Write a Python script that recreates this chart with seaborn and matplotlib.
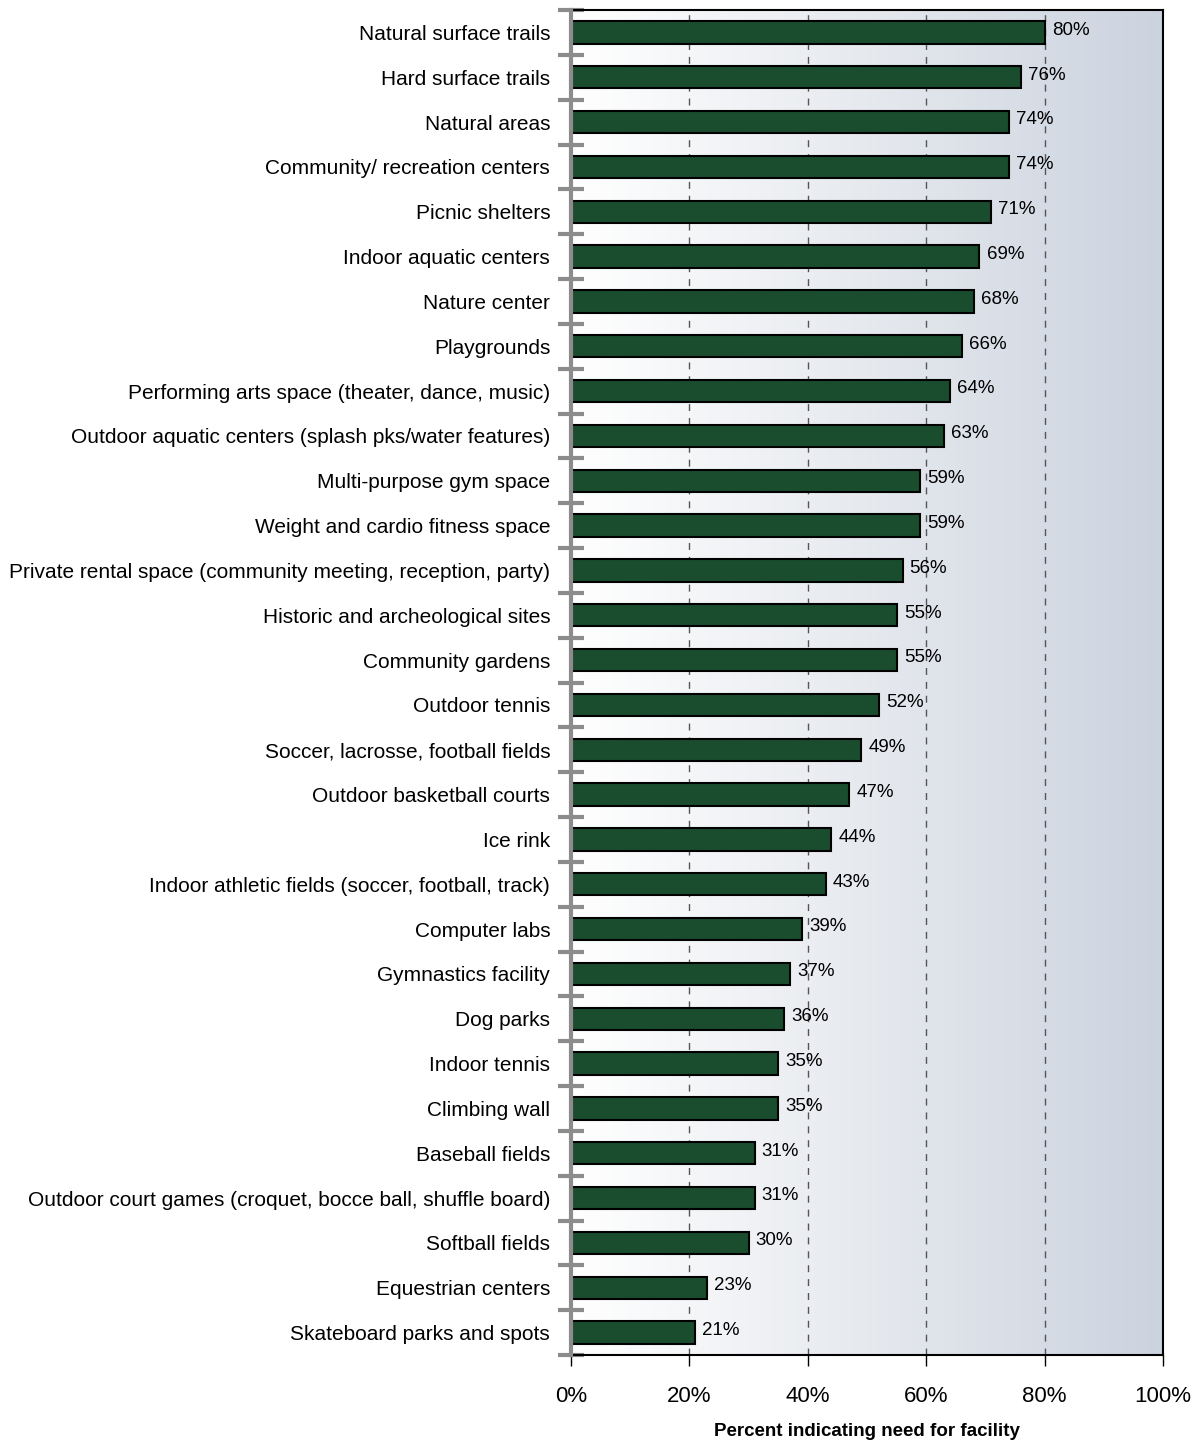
import numpy as np
import matplotlib
matplotlib.use("Agg")
import matplotlib.pyplot as plt
from matplotlib.colors import LinearSegmentedColormap
import seaborn as sns

categories = [
    "Natural surface trails", "Hard surface trails", "Natural areas",
    "Community/ recreation centers", "Picnic shelters", "Indoor aquatic centers",
    "Nature center", "Playgrounds", "Performing arts space (theater, dance, music)",
    "Outdoor aquatic centers (splash pks/water features)", "Multi-purpose gym space",
    "Weight and cardio fitness space",
    "Private rental space (community meeting, reception, party)",
    "Historic and archeological sites", "Community gardens", "Outdoor tennis",
    "Soccer, lacrosse, football fields", "Outdoor basketball courts", "Ice rink",
    "Indoor athletic fields (soccer, football, track)", "Computer labs",
    "Gymnastics facility", "Dog parks", "Indoor tennis", "Climbing wall",
    "Baseball fields", "Outdoor court games (croquet, bocce ball, shuffle board)",
    "Softball fields", "Equestrian centers", "Skateboard parks and spots",
]
values = [80, 76, 74, 74, 71, 69, 68, 66, 64, 63, 59, 59, 56, 55, 55, 52, 49, 47,
          44, 43, 39, 37, 36, 35, 35, 31, 31, 30, 23, 21]
xticks = [0, 20, 40, 60, 80, 100]
xticklabels = ["0%", "20%", "40%", "60%", "80%", "100%"]
xlabel = "Percent indicating need for facility"

sns.set_style("white")
plt.rcParams['font.family'] = ['Liberation Sans', 'DejaVu Sans']
plt.rcParams['text.color'] = 'black'
plt.rcParams['axes.labelcolor'] = 'black'
plt.rcParams['xtick.color'] = 'black'
plt.rcParams['ytick.color'] = 'black'

fig = plt.figure(figsize=(12, 14.46), dpi=100)
ax = fig.add_axes([571/1200, 1 - 1355/1446, (1163-571)/1200, (1355-10)/1446])

sns.barplot(x=values, y=categories, color="#1a4d2e", edgecolor="black",
            linewidth=1.5, width=0.5, saturation=1, ax=ax, zorder=3)

n = len(categories)

# gradient background
cmap = LinearSegmentedColormap.from_list("bg", ["#ffffff", "#e6e9ee", "#cbd3df"])
grad = np.linspace(0, 1, 256).reshape(1, -1)
ax.imshow(grad, extent=[0, 100, n - 0.5, -0.5], aspect="auto", cmap=cmap, zorder=0)
ax.set_ylim(n - 0.5, -0.5)
ax.set_xlim(0, 100)

for x in [20, 40, 60, 80]:
    ax.axvline(x, color="#555555", linestyle=(0, (5, 5)), linewidth=1, zorder=1)

for i, v in enumerate(values):
    ax.text(v + 1.2, i - 0.05, f"{v}%", va="center", ha="left", fontsize=13.5,
            color="black", zorder=4)

ax.set_xticks(xticks)
ax.set_xticklabels(xticklabels, fontsize=16, color="black")
ax.tick_params(axis="x", direction="out", length=8, width=1, color="black", pad=14, bottom=True)
ax.set_xlabel(xlabel, fontsize=13.5, fontweight="bold", labelpad=12, color="black")
ax.set_ylabel("")

ax.tick_params(axis="y", which="major", length=0, labelsize=15, pad=15, labelcolor="black")
ax.set_yticks(np.arange(-0.5, n, 1), minor=True)
ax.tick_params(axis="y", which="minor", direction="inout", length=19, width=3,
               color="#8c8c8c", left=True)

for s in ["top", "right", "bottom"]:
    ax.spines[s].set_color("black")
    ax.spines[s].set_linewidth(1.5)
    ax.spines[s].set_visible(True)
ax.spines["left"].set_color("#8c8c8c")
ax.spines["left"].set_linewidth(3)
ax.spines["left"].set_zorder(5)

fig.savefig("out.png", dpi=100)
